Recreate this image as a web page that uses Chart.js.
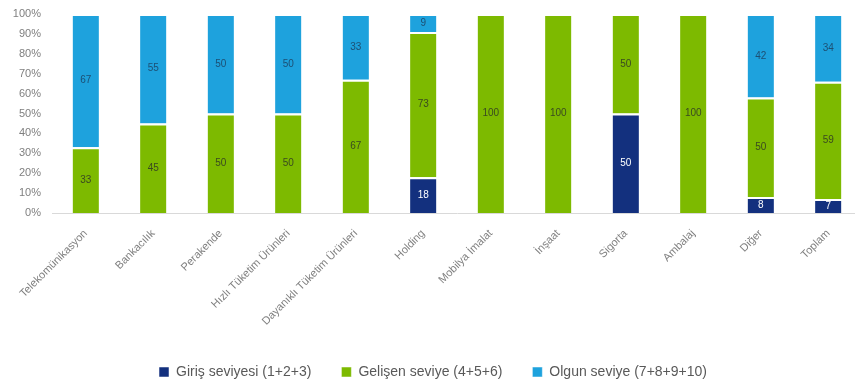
<!DOCTYPE html>
<html>
<head>
<meta charset="utf-8">
<script src="https://cdn.jsdelivr.net/npm/chart.js@4"></script>
<style>
  html, body { margin: 0; padding: 0; background: #fff; overflow: hidden; }
  #wrap { width: 866px; height: 389px; }
</style>
</head>
<body>
<div id="wrap"><canvas id="graphique" width="866" height="389"></canvas></div>
<script>
const categories = ["Telekomünikasyon", "Bankacılık", "Perakende", "Hızlı Tüketim Ürünleri", "Dayanıklı Tüketim Ürünleri",
    "Holding", "Mobilya İmalat", "İnşaat", "Sigorta", "Ambalaj", "Diğer", "Toplam"];
const giris = [0, 0, 0, 0, 0, 18, 0, 0, 50, 0, 8, 7];
const gelisen = [33, 45, 50, 50, 67, 73, 100, 100, 50, 100, 50, 59];
const olgun = [67, 55, 50, 50, 33, 9, 0, 0, 0, 0, 42, 34];
const seriesNames = ["Giriş seviyesi (1+2+3)", "Gelişen seviye (4+5+6)", "Olgun seviye (7+8+9+10)"];

// valeurs au centre de chaque segment
const etiquettes = {
    id: "etiquettes",
    afterDatasetsDraw(chart){
        const ctx = chart.ctx;
        ctx.save();
        ctx.font = "10px 'Liberation Sans', Arial, sans-serif";
        ctx.textAlign = "center";
        ctx.textBaseline = "middle";
        chart.data.datasets.forEach((ds, i) => {
            const meta = chart.getDatasetMeta(i);
            meta.data.forEach((bar, j) => {
                const v = ds.data[j];
                if(!v) return;
                ctx.fillStyle = i === 0 ? "#ffffff" : "#3a4a20";
                if(i === 2) ctx.fillStyle = "#1d4f73";
                ctx.fillText(v, bar.x, (bar.y + bar.base) / 2);
            });
        });
        ctx.restore();
    }
};

const data = {
    labels: categories,
    datasets: [
        { label: seriesNames[0], data: giris, backgroundColor: "#13307e" },
        { label: seriesNames[1], data: gelisen, backgroundColor: "#7dba00" },
        { label: seriesNames[2], data: olgun, backgroundColor: "#1ea2dd" }
    ]
};
data.datasets.forEach(ds => {
    ds.borderColor = "#ffffff";
    ds.borderWidth = {top: 2, bottom: 0, left: 0, right: 0};
    ds.borderSkipped = false;
    ds.barPercentage = 0.78;
    ds.categoryPercentage = 0.5;
});

new Chart(document.querySelector("#graphique"), {
    type: "bar",
    data: data,
    plugins: [etiquettes],
    options: {
        responsive: false,
        animation: false,
        layout: { padding: { top: 14, left: 4, right: 4, bottom: 0 } },
        plugins: {
            tooltip: { enabled: false },
            legend: {
                position: "bottom",
                labels: {
                    boxWidth: 10, boxHeight: 10, padding: 30,
                    color: "#595959",
                    font: { size: 14, family: "'Liberation Sans', Arial, sans-serif" }
                }
            }
        },
        scales: {
            x: {
                stacked: true,
                grid: { display: false },
                border: { color: "#d9d9d9" },
                ticks: {
                    minRotation: 45, maxRotation: 45, autoSkip: false,
                    padding: 6,
                    color: "#7f7f7f",
                    font: { size: 11, family: "'Liberation Sans', Arial, sans-serif" }
                },
                afterFit(scale){ scale.height = 122; }
            },
            y: {
                stacked: true,
                min: 0, max: 100,
                grid: { display: false },
                border: { display: false },
                ticks: {
                    stepSize: 10,
                    color: "#7f7f7f",
                    font: { size: 11, family: "'Liberation Sans', Arial, sans-serif" },
                    callback: v => v + "%"
                },
                afterFit(scale){ scale.width = 48; }
            }
        }
    }
});
</script>
</body>
</html>
